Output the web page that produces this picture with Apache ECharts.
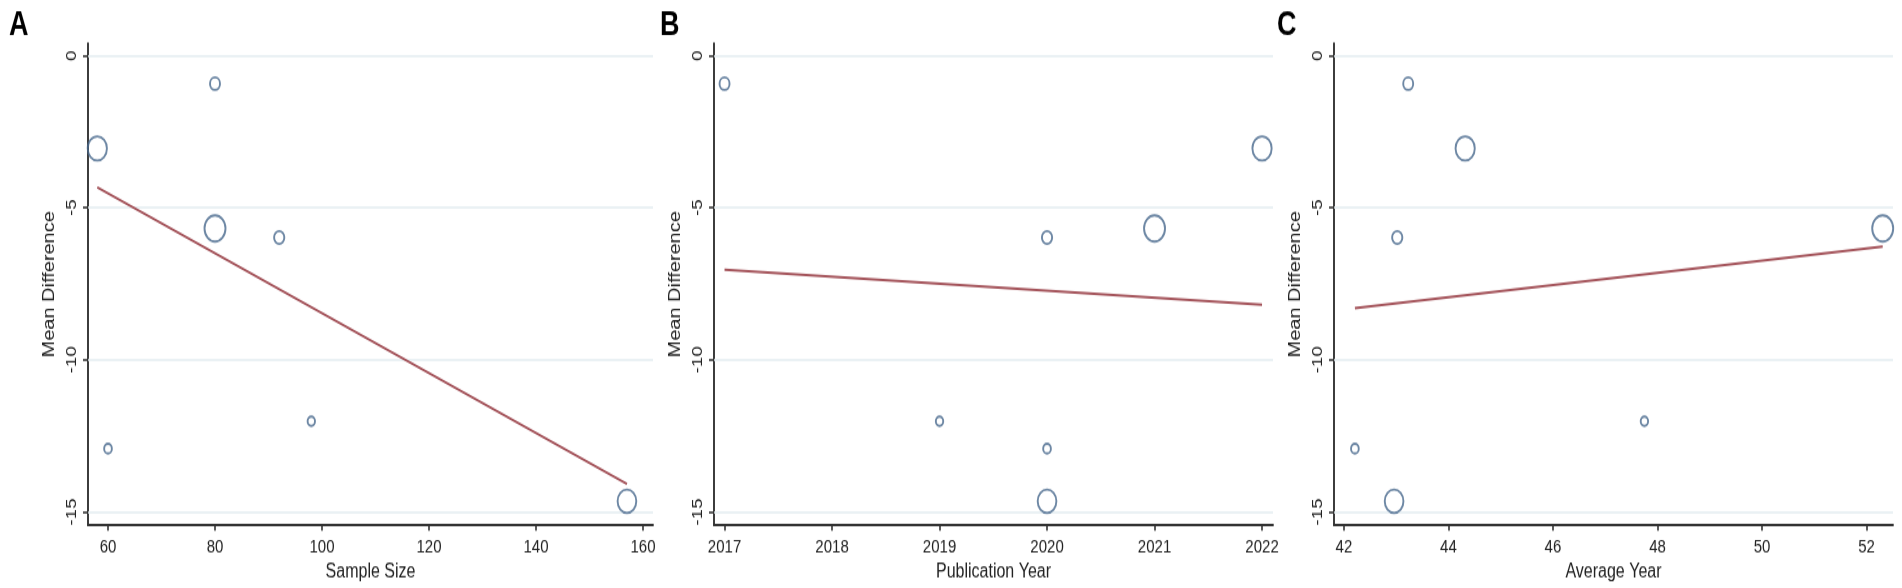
<!DOCTYPE html>
<html>
<head>
<meta charset="utf-8">
<script src="https://cdn.jsdelivr.net/npm/echarts@6/dist/echarts.min.js"></script>
<style>
  html, body { margin: 0; padding: 0; background: #ffffff; overflow: hidden; }
  #wrap { width: 1902px; height: 588px; overflow: hidden; position: relative; }
  #chart { width: 1902px; height: 470.4px; transform: scaleY(1.25); transform-origin: 0 0; }
</style>
</head>
<body>
<div id="wrap"><div id="chart"></div></div>
<script>
// ---------------- data ----------------
const panelLabels = ['A', 'B', 'C'];
const xTitles = ['Sample Size', 'Publication Year', 'Average Year'];
const yTitle = 'Mean Difference';
const yTicks = [0, -5, -10, -15];
const xTicksA = [60, 80, 100, 120, 140, 160];
const xTicksB = [2017, 2018, 2019, 2020, 2021, 2022];
const xTicksC = [42, 44, 46, 48, 50, 52];

// one entry per study
const sampleSize = [80, 58, 80, 92, 98, 60, 157];
const pubYear = [2017, 2022, 2021, 2020, 2019, 2020, 2020];
const avgYear = [43.23, 44.32, 52.31, 43.02, 47.75, 42.21, 42.96];
const meanDiff = [-0.92, -3.05, -5.68, -5.98, -12.02, -12.92, -14.65];
const studyWeight = [1.0, 3.7, 4.4, 1.05, 0.55, 0.6, 3.5];

// fitted meta-regression lines (end points)
const fitAx = [58, 157], fitAy = [-4.33, -14.08];
const fitBx = [2017, 2022], fitBy = [-7.04, -8.19];
const fitCx = [42.21, 52.31], fitCy = [-8.30, -6.28];

// ---------------- layout / style ----------------
const K = 1.25; // vertical stretch of the original figure
const xRanges = [[56.26, 161.87], [2016.902, 2022.102], [41.81, 52.507]];
const yRange = [-15.43, 0.40];
const gridsPx = [[88, 653], [714, 1273], [1334, 1893]];
const gridTop = 43.5 / K, gridBottomY = 525 / K, H = 588 / K;
const labelLeft = [4, 655, 1272];

const AXIS_COLOR = '#333333';
const TEXT_COLOR = '#222222';
const GRID_COLOR = '#e3ecf0';
const DOT_COLOR = '#48698d';
const FIT_COLOR = '#a4535a';
const FONT = '"Liberation Sans", Arial, Helvetica, sans-serif';

const xData = [sampleSize, pubYear, avgYear];
const xTicks = [xTicksA, xTicksB, xTicksC];
const fits = [[fitAx, fitAy], [fitBx, fitBy], [fitCx, fitCy]];

const grid = [], xAxis = [], yAxis = [], series = [], title = [];
for (let i = 0; i < 3; i++) {
  grid.push({
    left: gridsPx[i][0], width: gridsPx[i][1] - gridsPx[i][0],
    top: gridTop, height: gridBottomY - gridTop,
    containLabel: false, outerBoundsMode: 'none'
  });
  xAxis.push({
    type: 'value', gridIndex: i, min: xRanges[i][0], max: xRanges[i][1],
    name: xTitles[i], nameLocation: 'middle', nameGap: 27,
    nameTextStyle: { fontFamily: FONT, fontSize: 16, color: TEXT_COLOR },
    axisLine: { show: true, onZero: false, lineStyle: { color: AXIS_COLOR, width: 1.9 } },
    axisTick: { show: true, length: 4.5, customValues: xTicks[i], lineStyle: { color: AXIS_COLOR, width: 1.6 } },
    axisLabel: { show: true, customValues: xTicks[i], margin: 10, fontFamily: FONT, fontSize: 15, color: TEXT_COLOR,
                 formatter: v => String(v) },
    splitLine: { show: false }
  });
  yAxis.push({
    type: 'value', gridIndex: i, min: yRange[0], max: yRange[1],
    name: yTitle, nameLocation: 'middle', nameGap: 30, nameRotate: 90,
    nameTextStyle: { fontFamily: FONT, fontSize: 16, color: TEXT_COLOR },
    axisLine: { show: true, onZero: false, lineStyle: { color: AXIS_COLOR, width: 1.9 } },
    axisTick: { show: true, length: 5, customValues: yTicks, lineStyle: { color: AXIS_COLOR, width: 1.6 } },
    axisLabel: { show: true, customValues: yTicks, rotate: 90, margin: 9, fontFamily: FONT, fontSize: 15, color: TEXT_COLOR,
                 formatter: v => String(v) },
    splitLine: { show: false }
  });
  // horizontal grid lines at the tick values
  series.push({
    type: 'line', xAxisIndex: i, yAxisIndex: i, data: [], z: 1, silent: true,
    markLine: {
      z: 1, silent: true, symbol: ['none', 'none'], animation: false,
      label: { show: false },
      lineStyle: { color: GRID_COLOR, width: 1.5, type: 'solid' },
      emphasis: { disabled: true },
      data: yTicks.map(v => ({ yAxis: v }))
    }
  });
  // fitted line
  series.push({
    type: 'line', xAxisIndex: i, yAxisIndex: i, z: 3, silent: true,
    symbol: 'none', lineStyle: { color: FIT_COLOR, width: 2 },
    data: fits[i][0].map((x, j) => [x, fits[i][1][j]])
  });
  // studies
  series.push({
    type: 'scatter', xAxisIndex: i, yAxisIndex: i, z: 4, silent: true,
    symbol: 'circle',
    symbolSize: (val, p) => 10 * Math.sqrt(studyWeight[p.dataIndex]),
    itemStyle: { color: 'rgba(255,255,255,0)', borderColor: DOT_COLOR, borderWidth: 1.9 },
    data: xData[i].map((x, j) => [x, meanDiff[j]])
  });
  title.push({
    text: panelLabels[i], left: labelLeft[i], top: 2,
    textStyle: { fontFamily: FONT, fontSize: 27, fontWeight: 'bold', color: '#000' }
  });
}

const chart = echarts.init(document.getElementById('chart'), null, { renderer: 'canvas', width: 1902, height: H });
chart.setOption({
  backgroundColor: '#ffffff',
  animation: false,
  title, grid, xAxis, yAxis, series
});
</script>
</body>
</html>
